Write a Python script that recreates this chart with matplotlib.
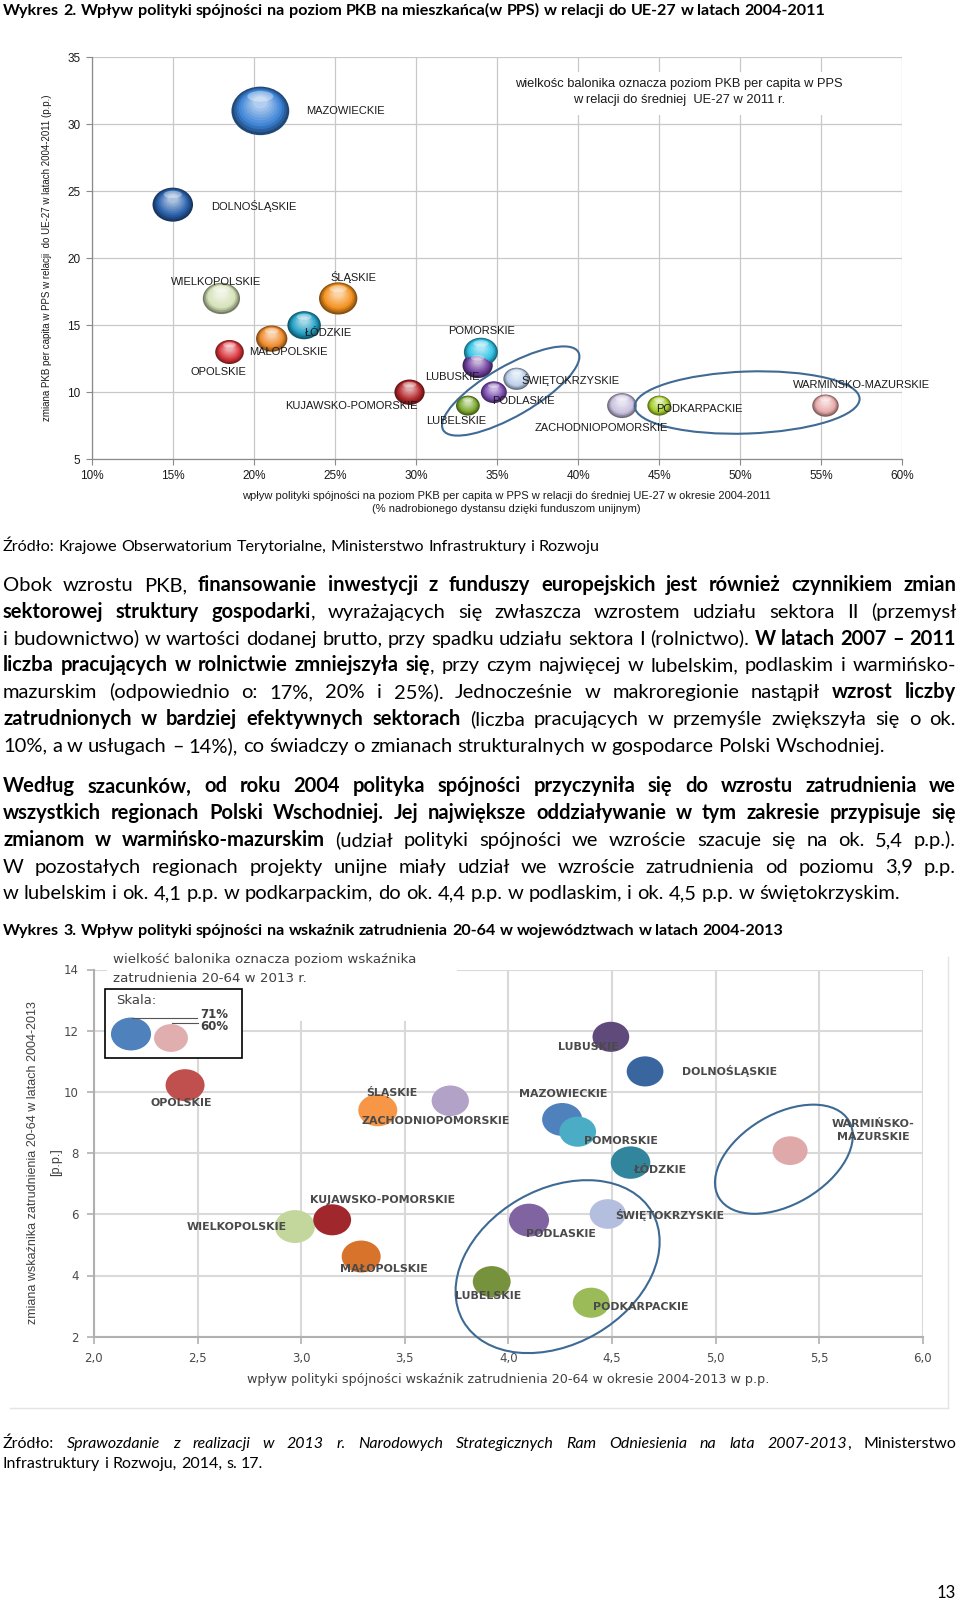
import matplotlib
matplotlib.use('Agg')
import matplotlib.pyplot as plt
import numpy as np
from matplotlib.patches import Ellipse, Rectangle
from matplotlib.lines import Line2D
from matplotlib.transforms import ScaledTranslation, Affine2D
from matplotlib.colors import to_rgb
from matplotlib import font_manager

W, H = 960, 1603
fig = plt.figure(figsize=(W / 100, H / 100), dpi=100)
fig.patch.set_facecolor('white')
pix = Affine2D().scale(1 / W, -1 / H).translate(0, 1) + fig.transFigure  # page pixels, y down
renderer = fig.canvas.get_renderer()

installed = {f.name for f in font_manager.fontManager.ttflist}
NARROW = 'Liberation Sans Narrow' if 'Liberation Sans Narrow' in installed else 'Liberation Sans'
BODY = 'Lato' if 'Lato' in installed else 'DejaVu Sans'
ARIAL = 'Liberation Sans'
WIDE = 'DejaVu Sans'

# ============================================================
# DATA - Wykres 2
# ============================================================
regions1 = ['MAZOWIECKIE', 'DOLNOŚLĄSKIE', 'WIELKOPOLSKIE', 'ŚLĄSKIE', 'ŁÓDZKIE', 'MAŁOPOLSKIE',
            'OPOLSKIE', 'KUJAWSKO-POMORSKIE', 'LUBUSKIE', 'POMORSKIE', 'ŚWIĘTOKRZYSKIE', 'PODLASKIE',
            'LUBELSKIE', 'ZACHODNIOPOMORSKIE', 'PODKARPACKIE', 'WARMIŃSKO-MAZURSKIE']
impact1 = [20.4, 15.0, 18.0, 25.2, 23.1, 21.1, 18.5, 29.6, 33.8, 34.0, 36.2, 34.8, 33.2, 42.7, 45.0, 55.25]
change1 = [31.0, 24.0, 17.0, 17.0, 15.0, 14.0, 13.0, 10.0, 12.0, 13.0, 11.0, 10.0, 9.0, 9.0, 9.0, 9.0]
gdp1 = [107, 75, 69, 71, 62, 58, 53, 56, 56, 63, 49, 48, 44, 55, 44, 49]
colors1 = ['#3b82d6', '#2a62ad', '#d5e2b8', '#f5921e', '#1f9fc4', '#ef8a2a', '#d8333b', '#b3262a',
           '#6f3f9e', '#2fc3e6', '#bcd0ea', '#7b4cb0', '#79a82d', '#c9c0df', '#a6cf2c', '#e8a9a9']
xticks1 = [10, 15, 20, 25, 30, 35, 40, 45, 50, 55, 60]
yticks1 = [5, 10, 15, 20, 25, 30, 35]

# ============================================================
# DATA - Wykres 3
# ============================================================
regions2 = ['OPOLSKIE', 'ŚLĄSKIE', 'ZACHODNIOPOMORSKIE', 'WIELKOPOLSKIE', 'KUJAWSKO-POMORSKIE',
            'MAŁOPOLSKIE', 'LUBUSKIE', 'DOLNOŚLĄSKIE', 'MAZOWIECKIE', 'POMORSKIE', 'ŁÓDZKIE',
            'ŚWIĘTOKRZYSKIE', 'PODLASKIE', 'LUBELSKIE', 'PODKARPACKIE', 'WARMIŃSKO-\nMAZURSKIE']
impact2 = [2.44, 3.37, 3.72, 2.97, 3.15, 3.29, 4.495, 4.66, 4.26, 4.335, 4.59, 4.48, 4.10, 3.92, 4.40, 5.36]
change2 = [10.22, 9.40, 9.71, 5.60, 5.82, 4.62, 11.80, 10.67, 9.10, 8.70, 7.69, 6.01, 5.81, 3.80, 3.11, 8.08]
emp2 = [69, 69, 66, 71, 67, 69, 65, 65, 71, 65, 70, 64, 71, 67, 65, 62]
colors2 = ['#c0504d', '#f79646', '#b3a2c7', '#c3d69b', '#a0282c', '#d8732c', '#604a7b', '#3a66a0',
           '#4f81bd', '#4bacc6', '#31859c', '#b4bfdf', '#8064a2', '#76923c', '#9bbb59', '#e0a9a9']
legend_vals = [71, 60]
legend_cols = ['#4f81bd', '#e0aeae']
xticks2 = [2.0, 2.5, 3.0, 3.5, 4.0, 4.5, 5.0, 5.5, 6.0]
yticks2 = [2, 4, 6, 8, 10, 12, 14]

# label offsets (pixels from bubble centre) - layout only
off1 = {'MAZOWIECKIE': (46, 0), 'DOLNOŚLĄSKIE': (38, -1), 'WIELKOPOLSKIE': (-50, 16),
        'ŚLĄSKIE': (-8, 21), 'ŁÓDZKIE': (1, -8), 'MAŁOPOLSKIE': (-23, -13), 'OPOLSKIE': (-39, -20),
        'KUJAWSKO-POMORSKIE': (-124, -14), 'LUBUSKIE': (-53, -12), 'POMORSKIE': (-33, 21),
        'ŚWIĘTOKRZYSKIE': (5, -1), 'PODLASKIE': (-2, -9), 'LUBELSKIE': (-42, -15),
        'ZACHODNIOPOMORSKIE': (-87, -22), 'PODKARPACKIE': (-3, -3), 'WARMIŃSKO-MAZURSKIE': (-33, 21)}
off2 = {'OPOLSKIE': (-4, -18, 'center'), 'ŚLĄSKIE': (-12, 18, 'left'), 'ZACHODNIOPOMORSKIE': (-89, -20, 'left'),
        'WIELKOPOLSKIE': (-8, 0, 'right'), 'KUJAWSKO-POMORSKIE': (-22, 20, 'left'),
        'MAŁOPOLSKIE': (-21, -12, 'left'), 'LUBUSKIE': (-53, -10, 'left'), 'DOLNOŚLĄSKIE': (37, 0, 'left'),
        'MAZOWIECKIE': (-43, 25, 'left'), 'POMORSKIE': (6, -9, 'left'), 'ŁÓDZKIE': (3, -7, 'left'),
        'ŚWIĘTOKRZYSKIE': (7, -1, 'left'), 'PODLASKIE': (-3, -14, 'left'), 'LUBELSKIE': (-37, -14, 'left'),
        'PODKARPACKIE': (2, -4, 'left'), 'WARMIŃSKO-\nMAZURSKIE': (83, 20, 'center')}


def axes_px(l, t, r, b):
    return fig.add_axes([l / W, 1 - b / H, (r - l) / W, (b - t) / H])


def at_point(ax, x, y):
    return fig.dpi_scale_trans + ScaledTranslation(x, y, ax.transData)


def glossy(ax, x, y, w, h, color):
    base = np.array(to_rgb(color))
    dark = base * 0.55
    light = base + (1 - base) * 0.6
    tr = at_point(ax, x, y)
    n = 10
    for k in range(n):
        t = k / (n - 1)
        s = 1 - 0.75 * t
        if t < 0.3:
            c = dark + (base - dark) * (t / 0.3)
        else:
            c = base + (light - base) * ((t - 0.3) / 0.7)
        ax.add_patch(Ellipse((0, 0.17 * h * t / 100), w * s / 100, h * s / 100, transform=tr,
                             facecolor=c, edgecolor='none', zorder=3 + k * 0.01))
    ax.add_patch(Ellipse((0, 0.3 * h / 100), 0.45 * w / 100, 0.22 * h / 100, transform=tr,
                         facecolor='white', alpha=0.35, edgecolor='none', zorder=3.2))


def outline(ax, cx, cy, w, h, ang, color):
    ax.add_patch(Ellipse((0, 0), w / 100, h / 100, angle=ang, transform=at_point(ax, cx, cy),
                         fill=False, edgecolor=color, linewidth=1.5, zorder=6, clip_on=False))


# ============================================================
# CHART: Wykres 2
# ============================================================
ax1 = axes_px(91.7, 57.3, 902.5, 459.2)
ax1.set_xlim(10, 60)
ax1.set_ylim(5, 35)
ax1.set_xticks(xticks1)
ax1.set_xticklabels([f'{v}%' for v in xticks1])
ax1.set_yticks(yticks1)
ax1.grid(True, color='#c8c8c8', linewidth=0.9)
ax1.set_axisbelow(True)
for s in ['top', 'right']:
    ax1.spines[s].set_visible(False)
for s in ['left', 'bottom']:
    ax1.spines[s].set_color('#8a8a8a')
    ax1.spines[s].set_linewidth(0.9)
ax1.tick_params(length=4, width=0.8, color='#8a8a8a', labelsize=8.5, pad=4, labelcolor='#1a1a1a')
for lab in ax1.get_xticklabels() + ax1.get_yticklabels():
    lab.set_family(NARROW)

for name, x, y, v, c in zip(regions1, impact1, change1, gdp1, colors1):
    w = v * 0.54
    glossy(ax1, x, y, w, w * 0.84, c)
    dx, dy = off1[name]
    ax1.annotate(name, xy=(x, y), xytext=(dx, dy), textcoords='offset pixels', ha='left', va='center',
                 fontsize=8, family=ARIAL, color='#1a1a1a', zorder=7)

outline(ax1, 35.84, 10.09, 156, 50, 30, '#3f6a94')
outline(ax1, 50.42, 9.23, 225, 62, 2, '#3f6a94')

fig.add_artist(Rectangle((505, 72), 346, 43, transform=pix, facecolor='white', edgecolor='none', zorder=2))
fig.text(679, 84, 'wielkośc balonika oznacza poziom PKB per capita w PPS', transform=pix,
         ha='center', va='center', fontsize=9.3, family=ARIAL, color='#1a1a1a', zorder=3)
fig.text(679, 100.5, 'w relacji do średniej  UE-27 w 2011 r.', transform=pix,
         ha='center', va='center', fontsize=9.3, family=ARIAL, color='#1a1a1a', zorder=3)

fig.text(47, 258, 'zmiana PKB per capita w PPS w relacji  do UE-27 w latach 2004-2011 (p.p.)',
         transform=pix, rotation=90, ha='center', va='center', fontsize=7, family=NARROW, color='#1a1a1a')
fig.text(506, 496, 'wpływ polityki spójności na poziom PKB per capita w PPS w relacji do średniej UE-27 w okresie 2004-2011',
         transform=pix, ha='center', va='center', fontsize=8, family=NARROW, color='#1a1a1a')
fig.text(506, 508.5, '(% nadrobionego dystansu dzięki funduszom unijnym)',
         transform=pix, ha='center', va='center', fontsize=8, family=NARROW, color='#1a1a1a')

# ============================================================
# CHART: Wykres 3
# ============================================================
ax2 = axes_px(93.9, 969.5, 922.7, 1336.7)
ax2.set_xlim(2, 6)
ax2.set_ylim(2, 14)
ax2.set_xticks(xticks2)
ax2.set_xticklabels([f'{v:.1f}'.replace('.', ',') for v in xticks2])
ax2.set_yticks(yticks2)
ax2.grid(True, color='#d9d9d9', linewidth=1.5)
ax2.set_axisbelow(True)
for s in ['top', 'right']:
    ax2.spines[s].set_visible(False)
for s in ['left', 'bottom']:
    ax2.spines[s].set_color('#b0b0b0')
    ax2.spines[s].set_linewidth(1.5)
ax2.tick_params(length=5, width=1.2, color='#b0b0b0', labelsize=8.5, pad=6, labelcolor='#4a4a4a')
for lab in ax2.get_xticklabels() + ax2.get_yticklabels():
    lab.set_family(WIDE)

for name, x, y, v, c in zip(regions2, impact2, change2, emp2, colors2):
    w = v * 0.565
    ax2.add_patch(Ellipse((0, 0), w / 100, w * 0.82 / 100, transform=at_point(ax2, x, y),
                          facecolor=c, edgecolor='none', zorder=3))
for name, x, y in zip(regions2, impact2, change2):
    dx, dy, ha = off2[name]
    ax2.annotate(name, xy=(x, y), xytext=(dx, dy), textcoords='offset pixels', ha=ha, va='center',
                 multialignment='center', fontsize=7.9, family=WIDE, fontweight='bold',
                 color='#4a4a4a', zorder=7, linespacing=1.3)

outline(ax2, 4.238, 4.29, 218, 155, 30, '#3d6a94')
outline(ax2, 5.33, 7.80, 151, 90, 30.6, '#3d6a94')

# text box, scale legend
fig.add_artist(Rectangle((107, 935), 350, 86, transform=pix, facecolor='white', edgecolor='none', zorder=2))
fig.text(113, 959, 'wielkość balonika oznacza poziom wskaźnika', transform=pix, ha='left', va='center',
         fontsize=9.6, family=WIDE, color='#404040', zorder=3)
fig.text(113, 978.3, 'zatrudnienia 20-64 w 2013 r.', transform=pix, ha='left', va='center',
         fontsize=9.6, family=WIDE, color='#404040', zorder=3)
fig.add_artist(Rectangle((105, 989), 137, 69, transform=pix, facecolor='white', edgecolor='black',
                         linewidth=1.2, zorder=3))
fig.text(115.7, 1000, 'Skala:', transform=pix, ha='left', va='center', fontsize=9.5, family=WIDE,
         color='#404040', zorder=4)
leg_xy = [(131, 1034), (171, 1038)]
for (lx, ly), v, c in zip(leg_xy, legend_vals, legend_cols):
    w = v * 0.565
    fig.add_artist(Ellipse((lx, ly), w, w * 0.82, transform=pix, facecolor=c, edgecolor='none', zorder=4))
fig.add_artist(Line2D([131.7, 197], [1017.7, 1017.7], transform=pix, color='#555555', lw=0.8, zorder=4))
fig.add_artist(Line2D([171.7, 198], [1023.3, 1023.3], transform=pix, color='#555555', lw=0.8, zorder=4))
fig.text(200, 1014.3, f'{legend_vals[0]}%', transform=pix, ha='left', va='center', fontsize=8.5,
         family=WIDE, fontweight='bold', color='#404040', zorder=5)
fig.text(200, 1026, f'{legend_vals[1]}%', transform=pix, ha='left', va='center', fontsize=8.5,
         family=WIDE, fontweight='bold', color='#404040', zorder=5)

fig.text(33, 1163, 'zmiana wskaźnika zatrudnienia 20-64 w latach 2004-2013', transform=pix, rotation=90,
         ha='center', va='center', fontsize=9, family=NARROW, color='#404040')
fig.text(56, 1162, '[p.p.]', transform=pix, rotation=90, ha='center', va='center', fontsize=9,
         family=NARROW, color='#404040')
fig.text(508, 1380, 'wpływ polityki spójności wskaźnik zatrudnienia 20-64 w okresie 2004-2013 w p.p.',
         transform=pix, ha='center', va='center', fontsize=9.2, family=WIDE, color='#404040')

# faint chart frame
fig.add_artist(Line2D([948, 948], [957, 1408], transform=pix, color='#e4e4e4', lw=1))
fig.add_artist(Line2D([10, 948], [1408, 1408], transform=pix, color='#e4e4e4', lw=1))

# ============================================================
# PAGE TEXT
# ============================================================
def measure(s, size, weight='normal', style='normal'):
    t = fig.text(0, 0, s, fontsize=size, fontweight=weight, fontstyle=style, family=BODY)
    w = t.get_window_extent(renderer).width
    t.remove()
    return w


def fit(s, target, weight='normal', style='normal'):
    return 12 * target / measure(s, 12, weight, style)


def parse(line):
    runs, buf, bold, ital = [], '', False, False
    for ch in line:
        if ch in '*~':
            if buf:
                runs.append((buf, bold, ital))
            buf = ''
            if ch == '*':
                bold = not bold
            else:
                ital = not ital
        else:
            buf += ch
    if buf:
        runs.append((buf, bold, ital))
    words = [[]]
    for text, b, i in runs:
        for k, p in enumerate(text.split(' ')):
            if k > 0:
                words.append([])
            if p:
                words[-1].append((p, b, i))
    return [w for w in words if w]


def put_line(line, y, size, justify=True, x0=3, x1=956):
    words = parse(line)
    while True:
        space = measure('a a', size) - measure('aa', size)
        widths = [[measure(p, size, 'bold' if b else 'normal', 'italic' if i else 'normal')
                   for p, b, i in wd] for wd in words]
        total = sum(sum(ws) for ws in widths)
        if justify and len(words) > 1:
            gap = (x1 - x0 - total) / (len(words) - 1)
            if gap < 0.55 * space:
                size *= 0.985
                continue
        else:
            gap = space
        break
    x = x0
    for wd, ws in zip(words, widths):
        for (p, b, i), w in zip(wd, ws):
            fig.text(x, y, p, transform=pix, fontsize=size, family=BODY, va='baseline', ha='left',
                     fontweight='bold' if b else 'normal', fontstyle='italic' if i else 'normal',
                     color='black')
            x += w
        x += gap


title1 = 'Wykres 2. Wpływ polityki spójności na poziom PKB na mieszkańca(w PPS) w relacji do UE-27 w latach 2004-2011'
put_line('*' + title1 + '*', 15, fit(title1, 813, 'bold'), justify=False)

src1 = 'Źródło: Krajowe Obserwatorium Terytorialne, Ministerstwo Infrastruktury i Rozwoju'
put_line(src1, 551, fit(src1, 596), justify=False)

para1 = [
    'Obok wzrostu PKB, *finansowanie inwestycji z funduszy europejskich jest również czynnikiem zmian*',
    '*sektorowej struktury gospodarki*, wyrażających się zwłaszcza wzrostem udziału sektora II (przemysł',
    'i budownictwo) w wartości dodanej brutto, przy spadku udziału sektora I (rolnictwo). *W latach 2007 – 2011*',
    '*liczba pracujących w rolnictwie zmniejszyła się*, przy czym najwięcej w lubelskim, podlaskim i warmińsko-',
    'mazurskim (odpowiednio o: 17%, 20% i 25%). Jednocześnie w makroregionie nastąpił *wzrost liczby*',
    '*zatrudnionych w bardziej efektywnych sektorach* (liczba pracujących w przemyśle zwiększyła się o ok.',
    '10%, a w usługach – 14%), co świadczy o zmianach strukturalnych w gospodarce Polski Wschodniej.',
]
para2 = [
    '*Według szacunków, od roku 2004 polityka spójności przyczyniła się do wzrostu zatrudnienia we*',
    '*wszystkich regionach Polski Wschodniej. Jej największe oddziaływanie w tym zakresie przypisuje się*',
    '*zmianom w warmińsko-mazurskim* (udział polityki spójności we wzroście szacuje się na ok. 5,4 p.p.).',
    'W pozostałych regionach projekty unijne miały udział we wzroście zatrudnienia od poziomu 3,9 p.p.',
    'w lubelskim i ok. 4,1 p.p. w podkarpackim, do ok. 4,4 p.p. w podlaskim, i ok. 4,5 p.p. w świętokrzyskim.',
]
body = fit(para1[-1], 879)
for k, ln in enumerate(para1):
    put_line(ln, 591 + k * 26.8, body, justify=k < len(para1) - 1)
for k, ln in enumerate(para2):
    put_line(ln, 792.5 + k * 26.7, body, justify=k < len(para2) - 1)

title2 = 'Wykres 3. Wpływ polityki spójności na wskaźnik zatrudnienia 20-64 w województwach w latach 2004-2013'
put_line('*' + title2 + '*', 935, fit(title2, 774, 'bold'), justify=False)

src2b = 'Infrastruktury i Rozwoju, 2014, s. 17.'
small = fit(src2b, 259)
put_line('Źródło: ~Sprawozdanie z realizacji w 2013 r. Narodowych Strategicznych Ram Odniesienia na lata 2007-2013~, Ministerstwo',
         1448, small)
put_line(src2b, 1468, small, justify=False)

fig.text(946, 1593, '13', transform=pix, ha='center', va='center', fontsize=12, family=BODY)

fig.savefig('out.png', dpi=100, facecolor='white')
plt.close()
